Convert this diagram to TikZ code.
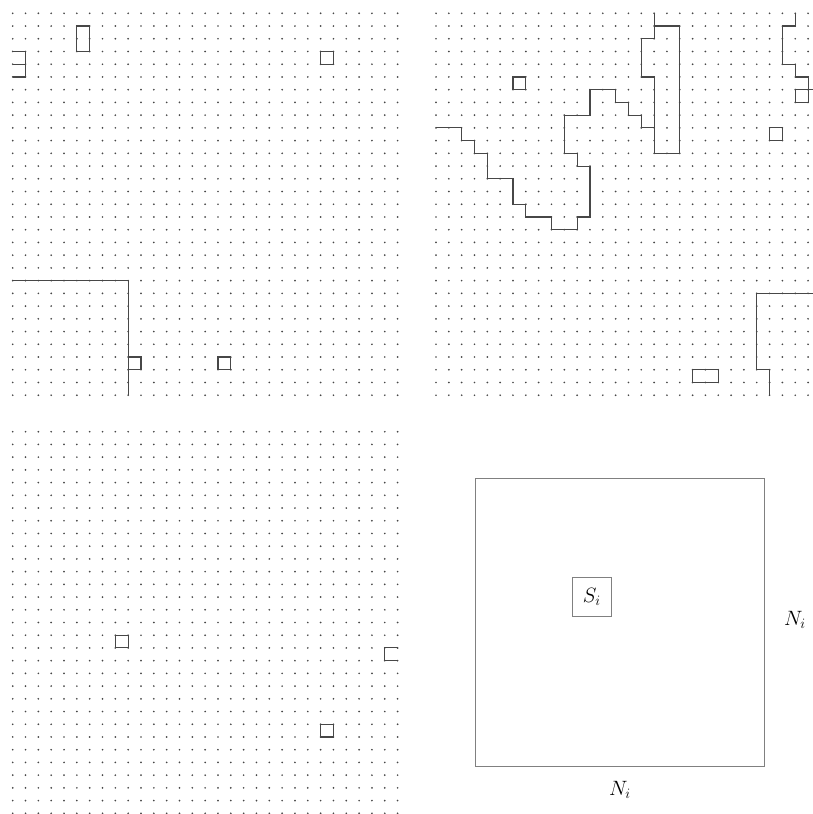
\documentclass[tikz,border=0pt]{standalone}
\begin{document}
\begin{tikzpicture}[x=1pt,y=-1pt]
\tikzset{
  dotc/.style={fill=black!72},
  trace/.style={draw=black!72,line width=1.1pt},
  frame/.style={draw=black!50,line width=0.9pt},
  lbl/.style={font=\fontsize{20}{24}\selectfont}
}
\useasboundingbox (0,0) rectangle (813,814);
\clip (0,0) rectangle (813,814);
% ---------- top-left panel ----------
\begin{scope}[shift={(12.7,13.3)},x=12.83pt,y=-12.73pt]
  \foreach \i in {0,...,30} \foreach \j in {0,...,30} \fill[dotc] (\i,\j) circle[radius=0.95pt];
  \draw[trace] (0,3) -- (1,3) -- (1,5) -- (0,5);
  \draw[trace] (0,4) -- (1,4);
  \draw[trace] (5,1) rectangle (6,3);
  \draw[trace] (24,3) rectangle (25,4);
  \draw[trace] (0,21) -- (9,21) -- (9,30);
  \draw[trace] (9,27) rectangle (10,28);
  \draw[trace] (16,27) rectangle (17,28);
\end{scope}
% ---------- top-right panel ----------
\begin{scope}[shift={(436,13.3)},x=12.83pt,y=-12.73pt]
  \foreach \i in {0,...,30} \foreach \j in {0,...,30} \fill[dotc] (\i,\j) circle[radius=0.95pt];
  \draw[trace] (6,5) rectangle (7,6);
  \draw[trace] (0,9) -- (2,9) -- (2,10) -- (3,10) -- (3,11) -- (4,11) -- (4,13) -- (6,13)
     -- (6,15) -- (7,15) -- (7,16) -- (9,16) -- (9,17) -- (11,17) -- (11,16) -- (12,16)
     -- (12,12) -- (11,12) -- (11,11) -- (10,11) -- (10,8) -- (12,8) -- (12,6) -- (14,6)
     -- (14,7) -- (15,7) -- (15,8) -- (16,8) -- (16,9) -- (17,9);
  \draw[trace] (17,0) -- (17,2) -- (16,2) -- (16,5) -- (17,5) -- (17,11) -- (19,11) -- (19,1) -- (17,1);
  \draw[trace] (28,0) -- (28,1) -- (27,1) -- (27,4) -- (28,4) -- (28,5) -- (29,5) -- (29,6) -- (30,6);
  \draw[trace] (28,6) rectangle (29,7);
  \draw[trace] (26,9) rectangle (27,10);
  \draw[trace] (30,22) -- (25,22) -- (25,28) -- (26,28) -- (26,30);
  \draw[trace] (20,28) rectangle (22,29);
\end{scope}
% ---------- bottom-left panel ----------
\begin{scope}[shift={(12.7,431.7)},x=12.83pt,y=-12.72pt]
  \foreach \i in {0,...,30} \foreach \j in {0,...,30} \fill[dotc] (\i,\j) circle[radius=0.95pt];
  \draw[trace] (8,16) rectangle (9,17);
  \draw[trace] (30,17) -- (29,17) -- (29,18) -- (30,18);
  \draw[trace] (24,23) rectangle (25,24);
\end{scope}
% ---------- bottom-right panel ----------
\draw[frame] (475.7,478.3) rectangle (764.3,766);
\node[frame,lbl,minimum size=39pt,inner sep=0pt] (s) at (591.8,596.5) {$S_i$};
\node[lbl] (nr) at (795,620) {$N_i$};
\node[lbl] (nb) at (620,790) {$N_i$};
\end{tikzpicture}
\end{document}
